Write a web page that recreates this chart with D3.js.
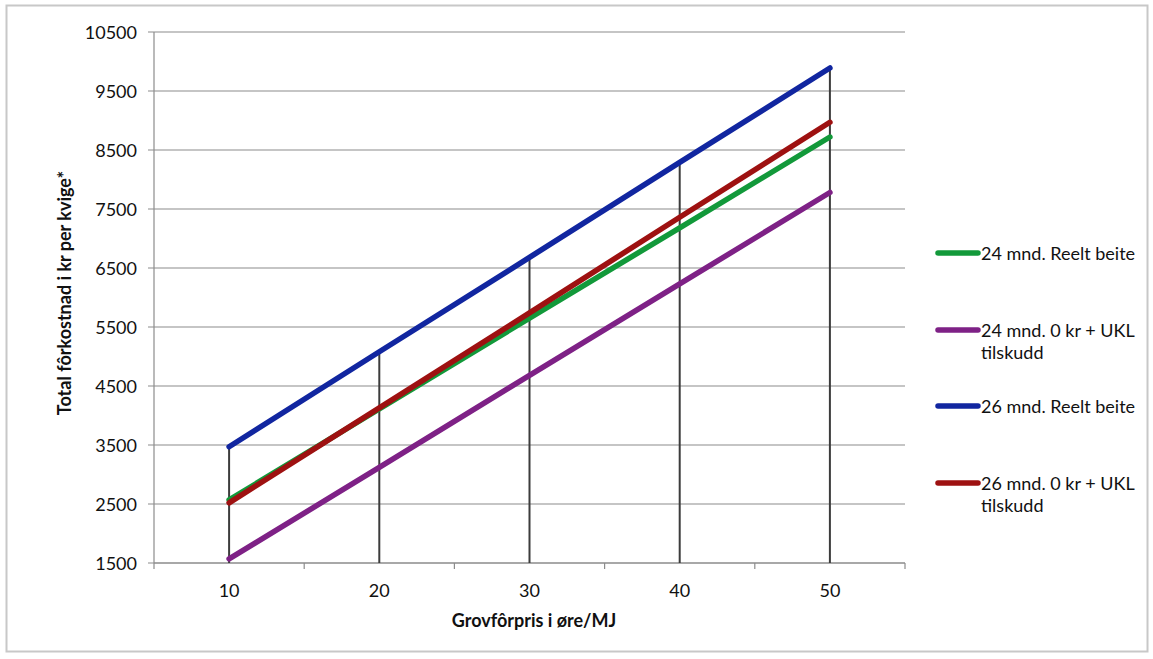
<!DOCTYPE html>
<html>
<head>
<meta charset="utf-8">
<script src="https://cdn.jsdelivr.net/npm/d3@7"></script>
<style>
  body { margin: 0; background: #fff; }
  text { font-family: Lato, "Open Sans", sans-serif; fill: #111; }
</style>
</head>
<body>
<div id="container"></div>
<script>
const prices = [10, 20, 30, 40, 50]
const seriesNames = ["24 mnd. Reelt beite", "24 mnd. 0 kr + UKL tilskudd", "26 mnd. Reelt beite", "26 mnd. 0 kr + UKL tilskudd"]
const green24 = [2570, 4110, 5650, 7180, 8720]
const purple24 = [1570, 3120, 4680, 6230, 7780]
const blue26 = [3470, 5080, 6680, 8290, 9890]
const red26 = [2520, 4130, 5740, 7360, 8970]
const yTicks = [1500, 2500, 3500, 4500, 5500, 6500, 7500, 8500, 9500, 10500]
const xMinorTicks = [5, 15, 25, 35, 45, 55]
const colors = ["#12993a", "#7e2186", "#1126a0", "#9e1111"]

const width = 1153
const height = 659
const allSeries = [green24, purple24, blue26, red26]

const svg = d3.select("#container").append("svg")
    .attr("width", width)
    .attr("height", height)

// outer frame
svg.append("rect")
    .attr("x", 6.5).attr("y", 5.5)
    .attr("width", 1141).attr("height", 646)
    .attr("fill", "#fff")
    .attr("stroke", "#c8c8c8")
    .attr("stroke-width", 2)

const x = d3.scaleLinear().domain([5, 55]).range([154, 905])
const y = d3.scaleLinear().domain([1500, 10500]).range([563, 32])

// horizontal gridlines
svg.append("g")
    .selectAll("line")
    .data(yTicks)
    .enter().append("line")
    .attr("x1", 148).attr("x2", x(55))
    .attr("y1", d => y(d)).attr("y2", d => y(d))
    .attr("stroke", "#8c8c8c")
    .attr("stroke-width", 1.2)

// y axis line
svg.append("line")
    .attr("x1", x(5)).attr("x2", x(5))
    .attr("y1", y(10500)).attr("y2", y(1500))
    .attr("stroke", "#8c8c8c").attr("stroke-width", 1.2)

// x axis line + minor ticks
svg.append("line")
    .attr("x1", x(5)).attr("x2", x(55))
    .attr("y1", y(1500)).attr("y2", y(1500))
    .attr("stroke", "#8c8c8c").attr("stroke-width", 1.2)

svg.append("g")
    .selectAll("line")
    .data(xMinorTicks)
    .enter().append("line")
    .attr("x1", d => x(d)).attr("x2", d => x(d))
    .attr("y1", y(1500)).attr("y2", y(1500) + 6)
    .attr("stroke", "#8c8c8c").attr("stroke-width", 1.2)

// drop lines to highest point
svg.append("g")
    .selectAll("line")
    .data(prices)
    .enter().append("line")
    .attr("x1", d => x(d)).attr("x2", d => x(d))
    .attr("y1", y(1500))
    .attr("y2", (d, i) => y(d3.max(allSeries, s => s[i])))
    .attr("stroke", "#3c3c3c")
    .attr("stroke-width", 2)

// y tick labels
svg.append("g")
    .selectAll("text")
    .data(yTicks)
    .enter().append("text")
    .attr("x", 137)
    .attr("y", d => y(d) + 6.5)
    .attr("text-anchor", "end")
    .attr("font-size", 18)
    .text(d => d)

// x tick labels
svg.append("g")
    .selectAll("text")
    .data(prices)
    .enter().append("text")
    .attr("x", d => x(d))
    .attr("y", 597)
    .attr("text-anchor", "middle")
    .attr("font-size", 18)
    .text(d => d)

// axis titles
svg.append("text")
    .attr("x", 534)
    .attr("y", 627)
    .attr("text-anchor", "middle")
    .attr("font-size", 18)
    .attr("font-weight", "bold")
    .text("Grovfôrpris i øre/MJ")

svg.append("text")
    .attr("transform", "translate(71, 293) rotate(-90)")
    .attr("text-anchor", "middle")
    .attr("font-size", 18)
    .attr("font-weight", "bold")
    .text("Total fôrkostnad i kr per kvige*")

// series lines
const line = d3.line()
    .x((d, i) => x(prices[i]))
    .y(d => y(d))

svg.append("g")
    .selectAll("path")
    .data(allSeries)
    .enter().append("path")
    .attr("d", d => line(d))
    .attr("fill", "none")
    .attr("stroke", (d, i) => colors[i])
    .attr("stroke-width", 5.5)
    .attr("stroke-linecap", "round")

// legend
const legendY = [253, 330, 406, 483]
const legend = svg.append("g")
const item = legend.selectAll("g")
    .data(seriesNames)
    .enter().append("g")
    .attr("transform", (d, i) => `translate(0, ${legendY[i]})`)

item.append("line")
    .attr("x1", 938).attr("x2", 978)
    .attr("y1", 0).attr("y2", 0)
    .attr("stroke", (d, i) => colors[i])
    .attr("stroke-width", 5.5)
    .attr("stroke-linecap", "round")

item.append("text")
    .selectAll("tspan")
    .data(d => {
        const m = d.match(/^(.*) (tilskudd)$/)
        return m ? [m[1], m[2]] : [d]
    })
    .enter().append("tspan")
    .attr("x", 981)
    .attr("y", (d, i) => 6.5 + i * 22)
    .attr("font-size", 18)
    .text(d => d)
</script>
</body>
</html>
